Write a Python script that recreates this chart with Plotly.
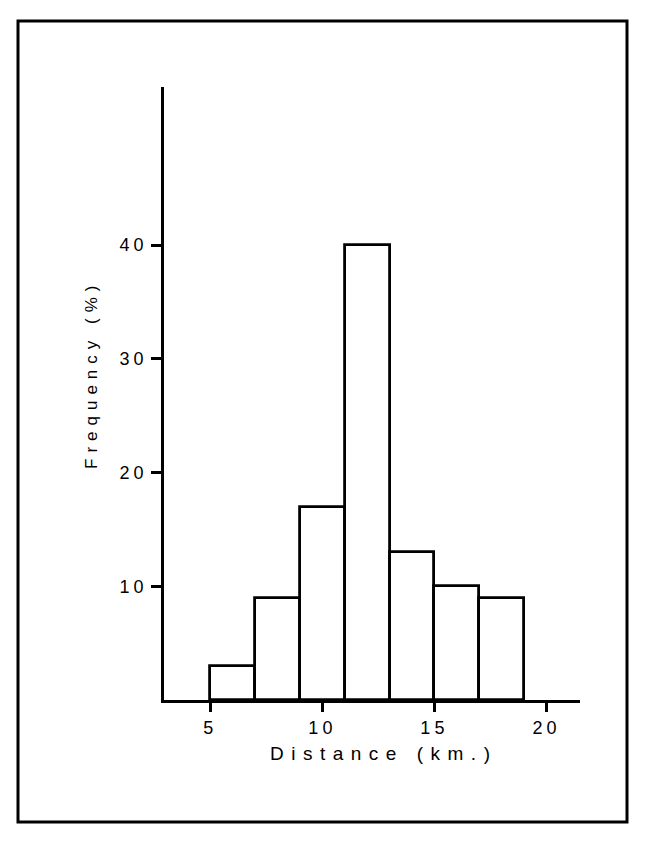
import plotly.graph_objects as go

# Data
bin_starts = [5, 7, 9, 11, 13, 15, 17]
bin_width = 2
frequency = [3, 9, 17, 40, 13, 10, 9]
x_ticks = [5, 10, 15, 20]
y_ticks = [10, 20, 30, 40]
x_title = "Distance (km.)"
y_title = "Frequency (%)"

centers = [s + bin_width / 2 for s in bin_starts]

FONT = "Liberation Sans, Arial, Helvetica, sans-serif"


def spaced(t, px):
    return f'<span style="letter-spacing:{px}px">{t}</span>'


fig = go.Figure()
fig.add_trace(go.Bar(
    x=centers, y=frequency, width=[bin_width] * len(centers),
    marker=dict(color="white", line=dict(color="black", width=2.8)),
    showlegend=False, hoverinfo="x+y",
))

L, R, T, B = 164, 85, 87, 147
W, H = 665, 847
pw, ph = W - L - R, H - T - B


def px_x(x):
    return (x - L) / pw


def px_y(y):
    return (H - B - y) / ph


fig.update_layout(
    width=W, height=H,
    margin=dict(l=L, r=R, t=T, b=B, pad=0),
    paper_bgcolor="white", plot_bgcolor="white",
    font=dict(family=FONT, color="black"),
    bargap=0,
    xaxis=dict(
        range=[2.93, 21.5], showgrid=False, zeroline=False,
        showline=True, linecolor="black", linewidth=2.8,
        ticks="outside", ticklen=9, tickwidth=2.5, tickcolor="black",
        tickvals=x_ticks, ticktext=[spaced(str(v), 4) for v in x_ticks],
        tickfont=dict(size=18, family=FONT, color="black"),
        fixedrange=True,
    ),
    yaxis=dict(
        range=[0, 53.9], showgrid=False, zeroline=False,
        showline=True, linecolor="black", linewidth=2.8,
        ticks="outside", ticklen=10, tickwidth=2.5, tickcolor="black",
        tickvals=y_ticks, ticktext=[spaced(str(v), 4) for v in y_ticks],
        tickfont=dict(size=18, family=FONT, color="black"),
        fixedrange=True,
    ),
    annotations=[
        dict(text=spaced(x_title, 7.5), xref="paper", yref="paper",
             x=px_x(383), y=px_y(753), showarrow=False,
             xanchor="center", yanchor="middle",
             font=dict(size=19, family=FONT, color="black")),
        dict(text=spaced(y_title, 6), xref="paper", yref="paper",
             x=px_x(91), y=px_y(375), showarrow=False, textangle=-90,
             xanchor="center", yanchor="middle",
             font=dict(size=17, family=FONT, color="black")),
    ],
    shapes=[
        dict(type="rect", xref="paper", yref="paper",
             x0=px_x(18), x1=px_x(627), y0=px_y(822), y1=px_y(21),
             line=dict(color="black", width=3), fillcolor="rgba(0,0,0,0)",
             layer="above"),
    ],
)

fig.write_html("out.html")
